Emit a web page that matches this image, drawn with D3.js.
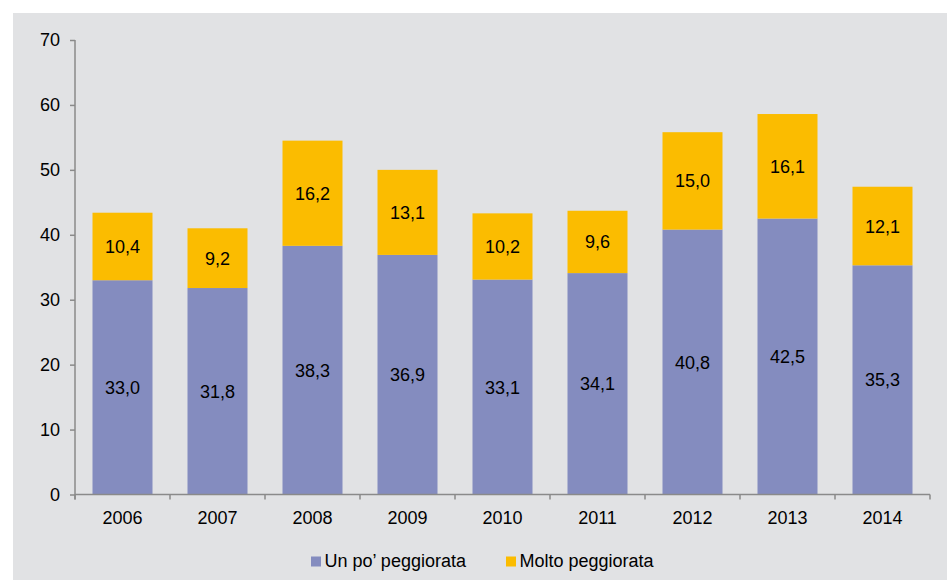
<!DOCTYPE html>
<html>
<head>
<meta charset="utf-8">
<script src="https://cdn.jsdelivr.net/npm/d3@7"></script>
<style>
  html, body { margin: 0; padding: 0; background: #ffffff; }
  svg { display: block; }
  text { font-family: "Liberation Sans", Arial, sans-serif; }
</style>
</head>
<body>
<svg id="chart" width="947" height="580"></svg>
<script>
// Years on the x axis
const years = ["2006", "2007", "2008", "2009", "2010", "2011", "2012", "2013", "2014"];
// Share of households: situation "a little" worse
const unPoPeggiorata = [33.0, 31.8, 38.3, 36.9, 33.1, 34.1, 40.8, 42.5, 35.3];
// Share of households: situation "much" worse
const moltoPeggiorata = [10.4, 9.2, 16.2, 13.1, 10.2, 9.6, 15.0, 16.1, 12.1];
// Y axis ticks
const yTicks = [0, 10, 20, 30, 40, 50, 60, 70];
// Series names shown in the legend
const seriesNames = ["Un po\u2019 peggiorata", "Molto peggiorata"];

const colors = ["#848cbf", "#fbbc00"];
const axisColor = "#8a8a8a";
const fontSize = 18;

const svg = d3.select("#chart");

// grey panel behind the chart
svg.append("rect")
  .attr("x", 13).attr("y", 13)
  .attr("width", 947 - 13).attr("height", 580 - 13)
  .attr("fill", "#e1e2e4");

const x0 = 75, x1 = 930, yTop = 40, yBottom = 494.5;
const pad = 35 / 95;

const x = d3.scaleBand()
  .domain(years)
  .range([x0, x1])
  .paddingInner(pad)
  .paddingOuter(pad / 2);

const y = d3.scaleLinear().domain([0, 70]).range([yBottom, yTop]);

// stacked layout
const table = years.map((yr, i) => ({ year: yr, a: unPoPeggiorata[i], b: moltoPeggiorata[i] }));
const stack = d3.stack().keys(["a", "b"]);
const layers = stack(table);

const fmt = v => d3.format(".1f")(v).replace(".", ",");

layers.forEach((layer, li) => {
  const g = svg.append("g");
  g.selectAll("rect")
    .data(layer)
    .join("rect")
    .attr("x", d => x(d.data.year))
    .attr("width", x.bandwidth())
    .attr("y", d => y(d[1]))
    .attr("height", d => y(d[0]) - y(d[1]))
    .attr("fill", colors[li]);
  g.selectAll("text")
    .data(layer)
    .join("text")
    .attr("x", d => x(d.data.year) + x.bandwidth() / 2)
    .attr("y", d => (y(d[0]) + y(d[1])) / 2)
    .attr("dy", "0.36em")
    .attr("text-anchor", "middle")
    .attr("font-size", fontSize)
    .attr("fill", "#000")
    .text(d => fmt(d[1] - d[0]));
});

// Y axis
const yAxis = svg.append("g")
  .attr("transform", `translate(${x0},0)`)
  .call(d3.axisLeft(y).tickValues(yTicks).tickSize(5).tickPadding(10).tickFormat(d3.format("d")));
yAxis.select(".domain").attr("stroke", axisColor).attr("stroke-width", 1.5)
  .attr("d", `M0,${yTop}V${yBottom + 5}`);
yAxis.selectAll(".tick line").attr("stroke", axisColor).attr("stroke-width", 1.5);
yAxis.selectAll(".tick text").attr("font-size", fontSize).attr("fill", "#000")
  .attr("font-family", "Liberation Sans, Arial, sans-serif");

// X axis: ticks sit on band boundaries
const bounds = d3.range(years.length + 1).map(i => x0 + i * x.step());
const xAxis = svg.append("g");
xAxis.append("line")
  .attr("x1", x0).attr("x2", x1)
  .attr("y1", yBottom).attr("y2", yBottom)
  .attr("stroke", axisColor).attr("stroke-width", 1.5);
xAxis.selectAll("line.tk")
  .data(bounds)
  .join("line")
  .attr("class", "tk")
  .attr("x1", d => d).attr("x2", d => d)
  .attr("y1", yBottom).attr("y2", yBottom + 5)
  .attr("stroke", axisColor).attr("stroke-width", 1.5);
xAxis.selectAll("text")
  .data(years)
  .join("text")
  .attr("x", d => x(d) + x.bandwidth() / 2)
  .attr("y", 523.5)
  .attr("text-anchor", "middle")
  .attr("font-size", fontSize)
  .attr("fill", "#000")
  .text(d => d);

// Legend
const legendPos = [311, 506];
const legend = svg.append("g");
seriesNames.forEach((name, i) => {
  legend.append("rect")
    .attr("x", legendPos[i]).attr("y", 556.5)
    .attr("width", 10).attr("height", 10)
    .attr("fill", colors[i]);
  legend.append("text")
    .attr("x", legendPos[i] + 13.5).attr("y", 567)
    .attr("font-size", fontSize)
    .attr("fill", "#000")
    .text(name);
});
</script>
</body>
</html>
